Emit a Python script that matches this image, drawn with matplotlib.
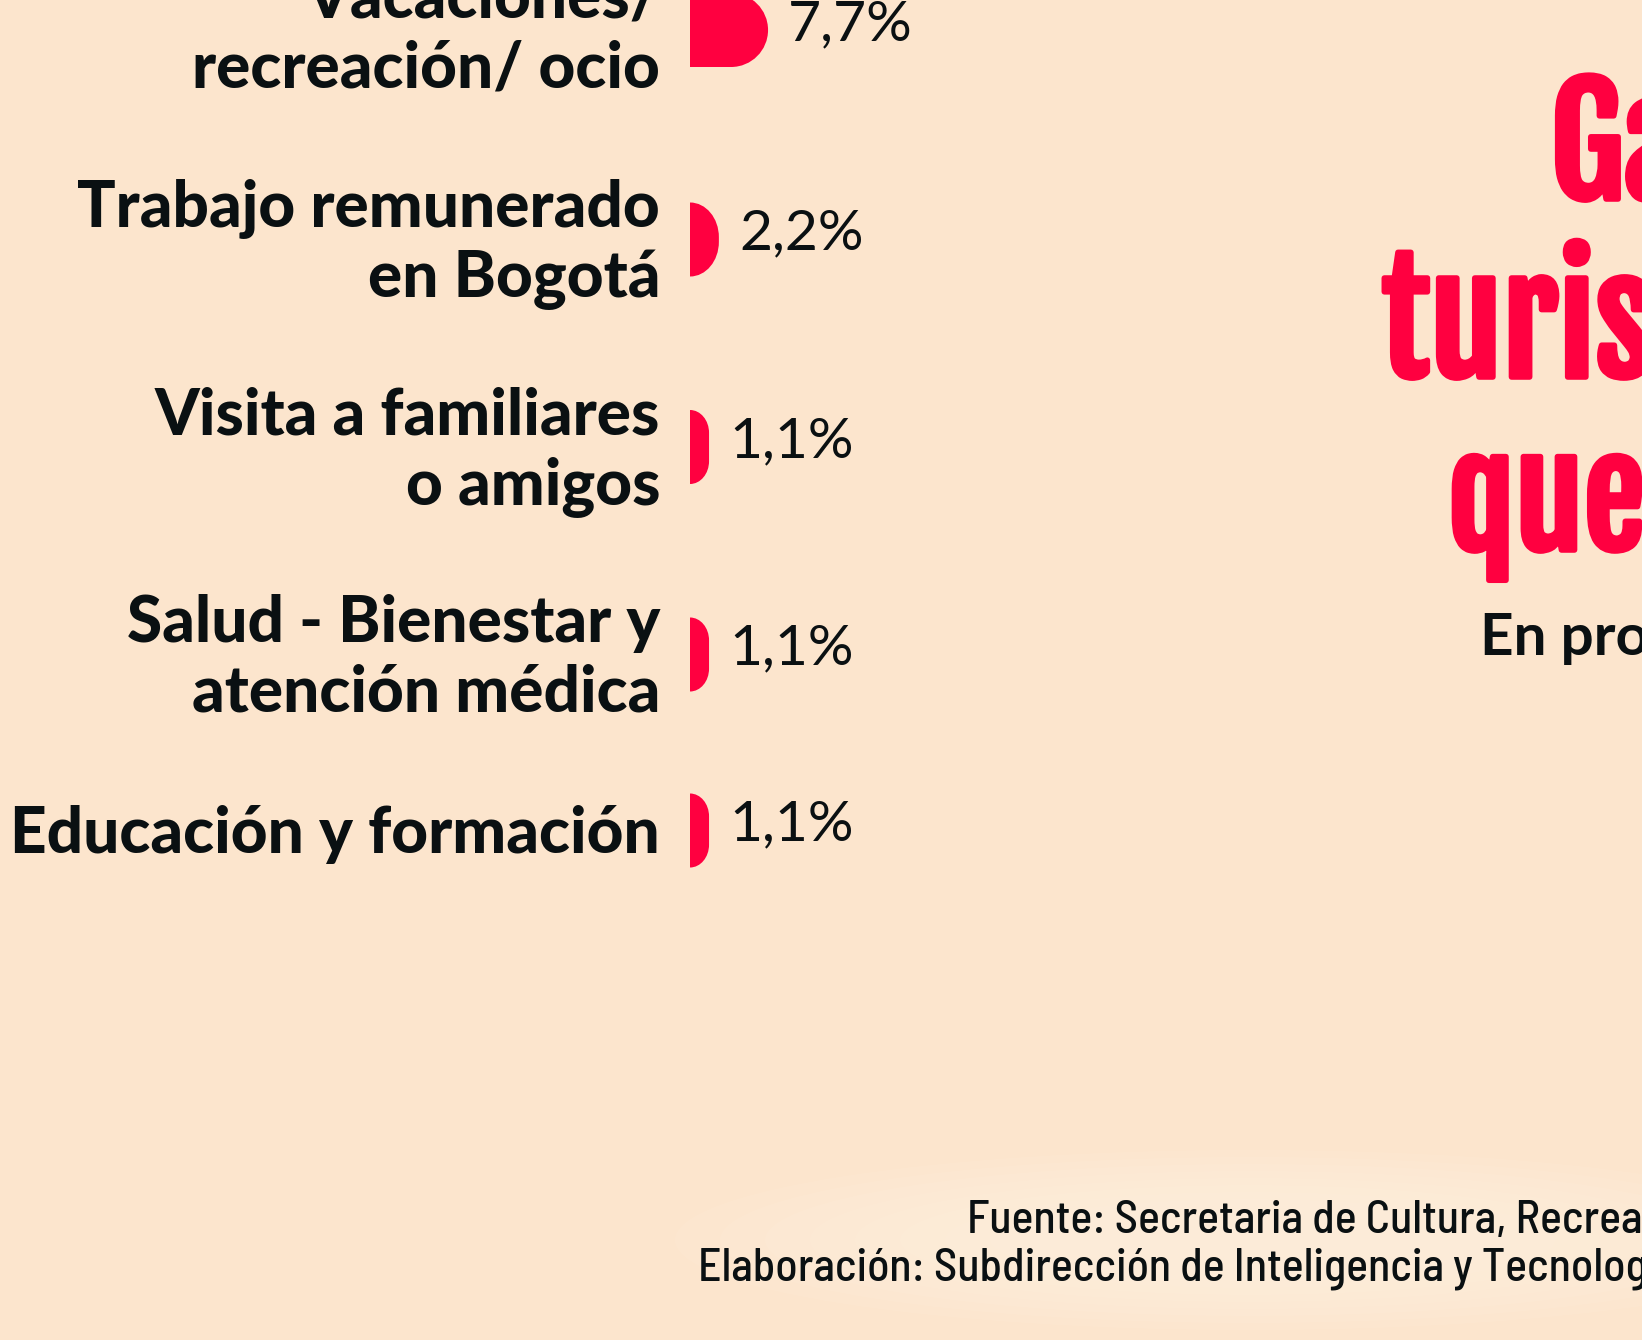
import matplotlib
matplotlib.use("Agg")
import matplotlib.pyplot as plt
from matplotlib.path import Path
from matplotlib.patches import PathPatch, Ellipse
from matplotlib import transforms
import matplotlib.patheffects as pe

# ==============================
# Data
# ==============================
motivos = [
    ["Vacaciones/", "recreación/ ocio"],
    ["Trabajo remunerado", "en Bogotá"],
    ["Visita a familiares", "o amigos"],
    ["Salud - Bienestar y", "atención médica"],
    ["Educación y formación"],
]
porcentajes = [7.7, 2.2, 1.1, 1.1, 1.1]
etiquetas = ["7,7%", "2,2%", "1,1%", "1,1%", "1,1%"]

titulo = ["Gasto", "turistas", "que"]
subtitulo = "En promedio"
fuente = "Fuente: Secretaria de Cultura, Recreación y Deporte"
elaboracion = "Elaboración: Subdirección de Inteligencia y Tecnologías de la Información"

# ==============================
# Style
# ==============================
BG = "#FCE5CD"
RED = "#FF0040"
INK = "#0A1012"
W, H = 1642, 1340

LABEL_FONT = ["Lato", "DejaVu Sans"]
TITLE_FONT = ["Fjalla One", "Anton", "Liberation Sans Narrow", "DejaVu Sans"]
FOOT_FONT = ["Barlow Semi Condensed", "Liberation Sans Narrow", "DejaVu Sans"]

fig = plt.figure(figsize=(W / 100, H / 100), dpi=100, facecolor=BG)

# full-figure axes in pixel units for the text layout
ax = fig.add_axes([0, 0, 1, 1])
ax.set_xlim(0, W)
ax.set_ylim(H, 0)
ax.axis("off")

# soft light glow behind the footer
for k in range(8):
    ax.add_patch(Ellipse((1250, 1240), 1150 - k * 90, 180 - k * 14,
                         facecolor="#FFF1DE", edgecolor="none", alpha=0.16))

# ==============================
# Bars (x in percent units, y in pixels)
# ==============================
px_per_unit = 8.94
bar_left_px = 690
bar_w_px = 320
x_start = -1.03
bx = fig.add_axes([bar_left_px / W, 0, bar_w_px / W, 1])
bx.set_xlim(x_start, x_start + bar_w_px / px_per_unit)
bx.set_ylim(H, 0)
bx.axis("off")
bx.patch.set_visible(False)

half_h = 37
line_h = 70
k = 0.5523

# row centres from the number of label lines
centres = []
c = 30
for i, m in enumerate(motivos):
    if i > 0:
        c += (len(motivos[i - 1]) + len(m)) * 63 / 2 + 81.5 + (2 if i == 1 else 0)
    centres.append(c)


def d_bar(v, yc):
    w_vis = (v - x_start) * px_per_unit
    rx_px = min(half_h, w_vis)
    ry = min(half_h, rx_px * 1.2)
    rx = rx_px / px_per_unit
    xl = x_start - 2
    top, bot = yc - half_h, yc + half_h
    verts = [
        (xl, top), (v - rx, top),
        (v - rx + k * rx, top), (v, top + ry - k * ry), (v, top + ry),
        (v, bot - ry),
        (v, bot - ry + k * ry), (v - rx + k * rx, bot), (v - rx, bot),
        (xl, bot), (xl, top),
    ]
    codes = [Path.MOVETO, Path.LINETO,
             Path.CURVE4, Path.CURVE4, Path.CURVE4,
             Path.LINETO,
             Path.CURVE4, Path.CURVE4, Path.CURVE4,
             Path.LINETO, Path.CLOSEPOLY]
    return Path(verts, codes)


val_offset = transforms.offset_copy(bx.transData, fig=fig, x=20, y=0, units="dots")

for m, v, lab, yc in zip(motivos, porcentajes, etiquetas, centres):
    bx.add_patch(PathPatch(d_bar(v, yc), facecolor=RED, edgecolor="none"))
    bx.text(v, yc + 10, lab, transform=val_offset, ha="left", va="baseline",
            fontsize=41, family=LABEL_FONT, fontweight=400, color=INK)
    n = len(m)
    for j, line in enumerate(m):
        yb = yc - (n - 1) * line_h / 2 + 22.5 + j * line_h
        ax.text(660, yb, line, ha="right", va="baseline", fontsize=46,
                family=LABEL_FONT, fontweight=900, color=INK)

# ==============================
# Title block (cut by the right edge)
# ==============================
heavy = [pe.withStroke(linewidth=4, foreground=RED)]
ax.text(1550, 199, titulo[0], ha="left", va="baseline", fontsize=106,
        family=TITLE_FONT, color=RED, path_effects=heavy)
ax.text(1382, 377, titulo[1], ha="left", va="baseline", fontsize=106,
        family=TITLE_FONT, color=RED, path_effects=heavy)
ax.text(1448, 550, titulo[2], ha="left", va="baseline", fontsize=100,
        family=TITLE_FONT, color=RED, path_effects=heavy)
ax.text(1480, 655, subtitulo, ha="left", va="baseline", fontsize=42,
        family=LABEL_FONT, fontweight=700, color=INK)

# ==============================
# Footer
# ==============================
ax.text(967, 1232, fuente, ha="left", va="baseline", fontsize=33,
        family=FOOT_FONT, fontweight=500, color=INK)
ax.text(698, 1281, elaboracion, ha="left", va="baseline", fontsize=33,
        family=FOOT_FONT, fontweight=500, color=INK)

fig.savefig("out.png", dpi=100, facecolor=BG)
